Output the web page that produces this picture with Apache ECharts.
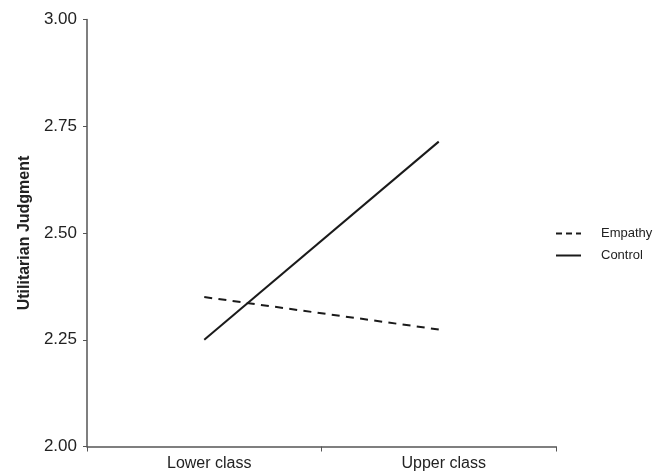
<!DOCTYPE html>
<html>
<head>
<meta charset="utf-8">
<script src="https://cdn.jsdelivr.net/npm/echarts@6/dist/echarts.min.js"></script>
<style>
  html, body { margin: 0; padding: 0; background: #fff; }
  #chart { width: 654px; height: 475px; }
</style>
</head>
<body>
<div id="chart"></div>
<script>
// Social class × condition means
const categories = ['Lower class', 'Upper class'];
const empathyValues = [2.35, 2.274];
const controlValues = [2.25, 2.714];
const yTicks = [2.00, 2.25, 2.50, 2.75, 3.00];

const chart = echarts.init(document.getElementById('chart'));
const axisColor = '#555';
const font = 'Liberation Sans, Arial, sans-serif';

chart.setOption({
  animation: false,
  grid: { left: 87, right: 98, top: 19.5, bottom: 28.5 },
  legend: {
    orient: 'vertical',
    left: 550,
    top: 222,
    itemWidth: 25,
    itemHeight: 10,
    itemGap: 9,
    itemStyle: { opacity: 0 },
    textStyle: { fontFamily: font, fontSize: 13, color: '#222', padding: [0, 0, 0, 15] },
    data: [
      { name: 'Empathy', lineStyle: { type: [6, 4] } },
      { name: 'Control' }
    ]
  },
  xAxis: {
    type: 'category',
    data: categories,
    boundaryGap: true,
    axisLine: { lineStyle: { color: axisColor, width: 1.5 } },
    axisTick: { show: true, length: 5, alignWithLabel: false, lineStyle: { color: axisColor } },
    axisLabel: { fontFamily: font, fontSize: 16, color: '#222', margin: 9, padding: [0, 0, 0, 10] },
    splitLine: { show: false }
  },
  yAxis: {
    type: 'value',
    min: yTicks[0],
    max: yTicks[yTicks.length - 1],
    interval: 0.25,
    name: 'Utilitarian Judgment',
    nameLocation: 'middle',
    nameGap: 41,
    nameRotate: 90,
    nameTextStyle: { fontFamily: font, fontSize: 16, fontWeight: 'bold', color: '#222' },
    axisLine: { show: true, lineStyle: { color: axisColor, width: 1.5 } },
    axisTick: { show: true, length: 4, lineStyle: { color: axisColor } },
    axisLabel: {
      fontFamily: font, fontSize: 17, color: '#222', margin: 10,
      formatter: v => v.toFixed(2)
    },
    splitLine: { show: false }
  },
  series: [
    {
      name: 'Empathy',
      type: 'line',
      data: empathyValues,
      symbol: 'none',
      lineStyle: { color: '#1a1a1a', width: 2, type: [8, 6.3] },
      itemStyle: { color: '#1a1a1a' }
    },
    {
      name: 'Control',
      type: 'line',
      data: controlValues,
      symbol: 'none',
      lineStyle: { color: '#1a1a1a', width: 2, type: 'solid' },
      itemStyle: { color: '#1a1a1a' }
    }
  ]
});
</script>
</body>
</html>
